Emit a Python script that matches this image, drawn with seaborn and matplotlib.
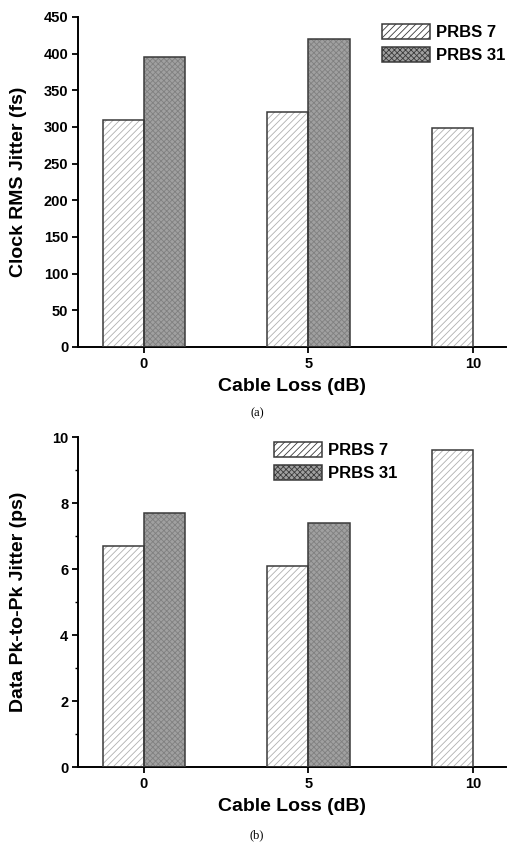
import numpy as np
import pandas as pd
import matplotlib
matplotlib.use("Agg")
from matplotlib import pyplot as plt
from matplotlib.patches import Rectangle
from matplotlib.ticker import MultipleLocator
import seaborn as sns

# values
cable_loss = [0, 5, 10]
series = ["PRBS 7", "PRBS 31"]
clock_prbs7 = [310, 320, 298]
clock_prbs31 = [396, 420, np.nan]
data_prbs7 = [6.7, 6.1, 9.6]
data_prbs31 = [7.7, 7.4, np.nan]

sns.set_style("ticks", {"axes.edgecolor": "black", "text.color": "black",
                        "axes.labelcolor": "black", "xtick.color": "black",
                        "ytick.color": "black"})
plt.rcParams['font.family'] = ['Liberation Sans', 'DejaVu Sans']
plt.rcParams['font.weight'] = 'bold'
plt.rcParams['hatch.linewidth'] = 0.6


def make_df(a, b):
    rows = []
    for x, v in zip(cable_loss, a):
        rows.append((x, series[0], v))
    for x, v in zip(cable_loss, b):
        rows.append((x, series[1], v))
    return pd.DataFrame(rows, columns=["loss", "series", "value"])


def panel(ax, df, ylabel, ymax, ystep, yminor, leg_x, leg_y):
    sns.barplot(data=df, x="loss", y="value", hue="series", hue_order=series,
                native_scale=True, width=0.5, ax=ax, legend=False,
                saturation=1, errorbar=None)
    styles = [dict(fc="white", hc="#b0b0b0", hatch="/////"),
              dict(fc="#a0a0a0", hc="#808080", hatch="xxxxxx")]
    for cont, st in zip(ax.containers, styles):
        for p in cont.patches:
            p.set_facecolor(st["fc"])
            p.set_edgecolor(st["hc"])
            p.set_hatch(st["hatch"])
            p.set_linewidth(0)
            # dark outline on top of the light hatch
            if np.isfinite(p.get_height()) and p.get_height() > 0:
                ax.add_patch(Rectangle(p.get_xy(), p.get_width(), p.get_height(),
                                       fill=False, ec="#3a3a3a", lw=1.1, zorder=3))
    # legend handles
    h1 = Rectangle((0, 0), 1, 1, fc="white", ec="#3a3a3a", lw=1.1, hatch="/////")
    h2 = Rectangle((0, 0), 1, 1, fc="#a0a0a0", ec="#3a3a3a", lw=1.1, hatch="xxxxxx")
    ax.legend([h1, h2], series, loc="upper left", bbox_to_anchor=(leg_x, leg_y),
              frameon=False, borderpad=0, borderaxespad=0, handlelength=2.9,
              handleheight=1.0, handletextpad=0.35, labelspacing=0.42,
              prop=dict(size=12, weight="bold"))
    ax.set_xlim(-2, 11)
    ax.set_ylim(0, ymax)
    ax.set_xticks(cable_loss)
    ax.set_xticklabels([str(c) for c in cable_loss])
    ax.yaxis.set_major_locator(MultipleLocator(ystep))
    if yminor:
        ax.yaxis.set_minor_locator(MultipleLocator(yminor))
        ax.tick_params(axis="y", which="minor", length=2.5, width=1.0, direction="out")
    ax.tick_params(axis="both", which="major", length=4, width=1.3, labelsize=10.5,
                   direction="out", pad=3)
    for lab in ax.get_xticklabels() + ax.get_yticklabels():
        lab.set_fontweight("bold")
    sns.despine(ax=ax)
    ax.spines["left"].set_linewidth(1.4)
    ax.spines["bottom"].set_linewidth(1.4)
    ax.set_xlabel("Cable Loss (dB)", fontsize=14, fontweight="bold", labelpad=5)
    ax.set_ylabel(ylabel, fontsize=14, fontweight="bold")
    ax.yaxis.set_label_coords(-0.119, 0.5)


fig = plt.figure(figsize=(5.14, 8.44), dpi=100)
ax1 = fig.add_axes([0.1518, 0.5889, 0.8326, 0.3910])
ax2 = fig.add_axes([0.1518, 0.0912, 0.8326, 0.3910])

panel(ax1, make_df(clock_prbs7, clock_prbs31), "Clock RMS Jitter (fs)",
      450, 50, None, 0.71, 0.979)
panel(ax2, make_df(data_prbs7, data_prbs31), "Data Pk-to-Pk Jitter (ps)",
      10, 2, 1, 0.458, 0.985)

fig.text(0.5, 1 - 413 / 844, "(a)", ha="center", va="center",
         family="Liberation Serif", fontsize=9, fontweight="normal")
fig.text(0.5, 1 - 835 / 844, "(b)", ha="center", va="center",
         family="Liberation Serif", fontsize=9, fontweight="normal")

fig.savefig("out.png", dpi=100)
